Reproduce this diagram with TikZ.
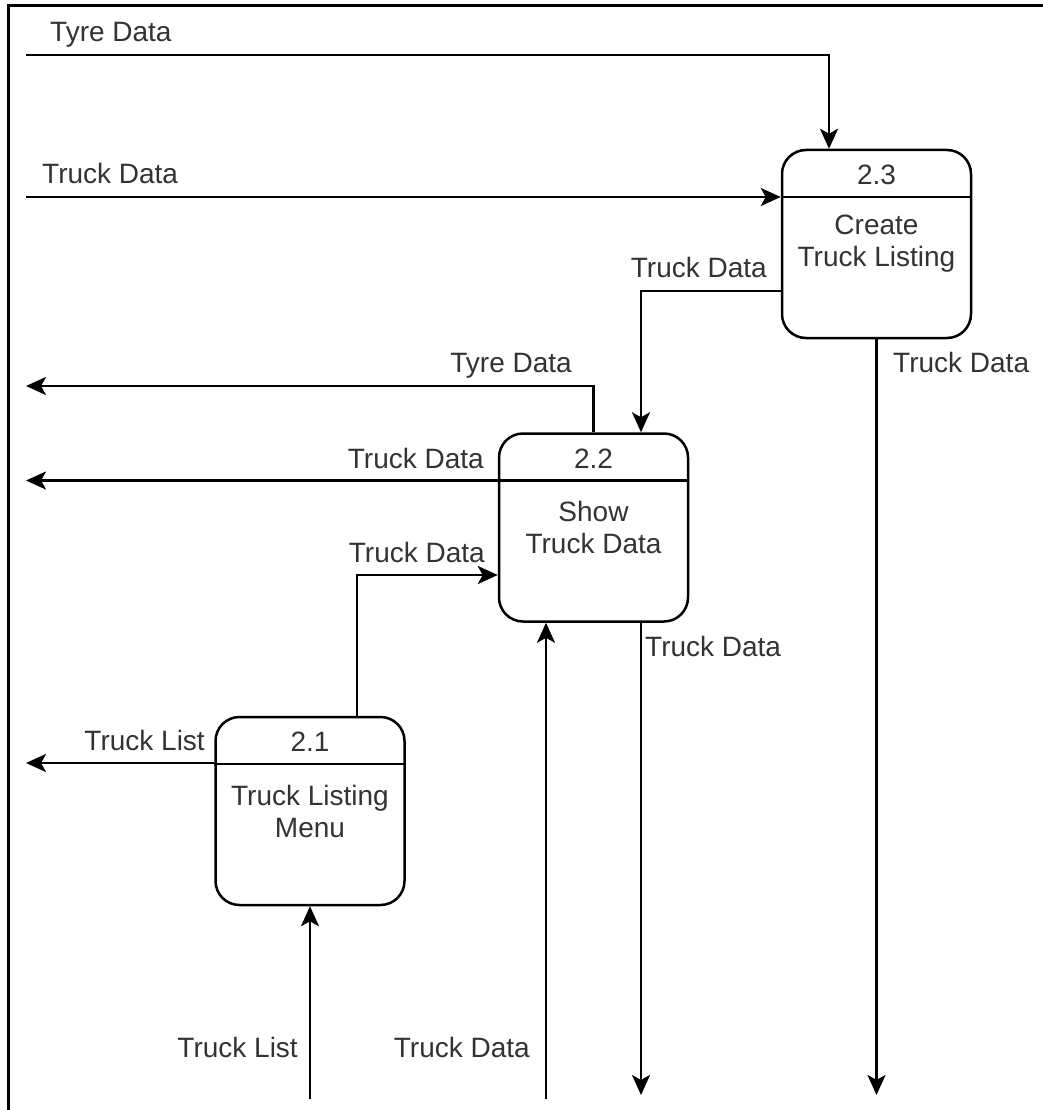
\documentclass[tikz,border=0pt]{standalone}
\usepackage{fontspec}
\setmainfont{Liberation Sans}
\usetikzlibrary{arrows.meta,calc}
\begin{document}
\begin{tikzpicture}[x=1pt,y=-1pt,
  flow/.style={line width=2.5pt, -{Stealth[length=20pt,width=18pt,inset=5pt]}},
  wire/.style={line width=2.5pt},
  proc/.style={draw, line width=2.5pt, rounded corners=24pt,
               minimum width=189pt, minimum height=188pt, inner sep=0pt},
  lbl/.style={font=\fontsize{28}{32}\selectfont, text=black!80, inner sep=0pt},
  body/.style={lbl, align=center},
]
\useasboundingbox (0,0) rectangle (1043,1110);

% frame (top and left edges)
\draw[line width=3pt] (8,1112) -- (8,6) -- (1045,6);

% processes
\node[proc] (p23) at (876.5,244) {};
\node[proc] (p22) at (593.5,527.5) {};
\node[proc] (p21) at (310,811) {};

\foreach \p in {p23,p22,p21}
  \draw[wire] ($(\p.west)+(0,-47)$) -- ($(\p.east)+(0,-47)$);

\node[lbl] (n23) at ($(p23.center)+(0,-69)$) {2.3};
\node[body] (t23) at (p23.center) {Create\\Truck Listing};
\node[lbl] (n22) at ($(p22.center)+(0,-69)$) {2.2};
\node[body] (t22) at (p22.center) {Show\\Truck Data};
\node[lbl] (n21) at ($(p21.center)+(0,-69)$) {2.1};
\node[body] (t21) at (p21.center) {Truck Listing\\Menu};

% free ends of the flows
\coordinate (tyreIn)  at (26,55);
\coordinate (truckIn) at (26,197);
\coordinate (tyreOut) at (26,386);
\coordinate (dataOut) at (26,480.5);
\coordinate (listOut) at (26,763);
\coordinate (out23)   at (876.5,1095);
\coordinate (out22)   at (641,1095);
\coordinate (in22)    at (546,1099);
\coordinate (in21)    at (310,1099);

% flows
\draw[flow] (tyreIn) -| ($(p23.north)+(-47.5,0)$);
\draw[flow] (truckIn) -- ($(p23.west)+(0,-47)$);
\draw[flow] ($(p23.west)+(0,47)$) -| ($(p22.north)+(47.5,0)$);
\draw[flow] (p23.south) -- (out23);
\draw[flow] (p22.north) |- (tyreOut);
\draw[flow] ($(p22.west)+(0,-47)$) -- (dataOut);
\draw[flow] ($(p21.north)+(47,0)$) |- ($(p22.west)+(0,47.5)$);
\draw[flow] (in22) -- ($(p22.south)+(-47.5,0)$);
\draw[flow] ($(p22.south)+(47.5,0)$) -- (out22);
\draw[flow] ($(p21.west)+(0,-48)$) -- (listOut);
\draw[flow] (in21) -- (p21.south);

% flow labels
\node[lbl, anchor=base west] (l1)  at (50,42)   {Tyre Data};
\node[lbl, anchor=base west] (l2)  at (42,184)  {Truck Data};
\node[lbl, anchor=base east] (l3)  at (767,277) {Truck Data};
\node[lbl, anchor=base west] (l4)  at (893,372) {Truck Data};
\node[lbl, anchor=base east] (l5)  at (572,372) {Tyre Data};
\node[lbl, anchor=base east] (l6)  at (484,468) {Truck Data};
\node[lbl, anchor=base east] (l7)  at (485,562) {Truck Data};
\node[lbl, anchor=base west] (l8)  at (645,656) {Truck Data};
\node[lbl, anchor=base east] (l9)  at (205,750) {Truck List};
\node[lbl, anchor=base east] (l10) at (298,1057) {Truck List};
\node[lbl, anchor=base east] (l11) at (530,1057) {Truck Data};
\end{tikzpicture}
\end{document}
